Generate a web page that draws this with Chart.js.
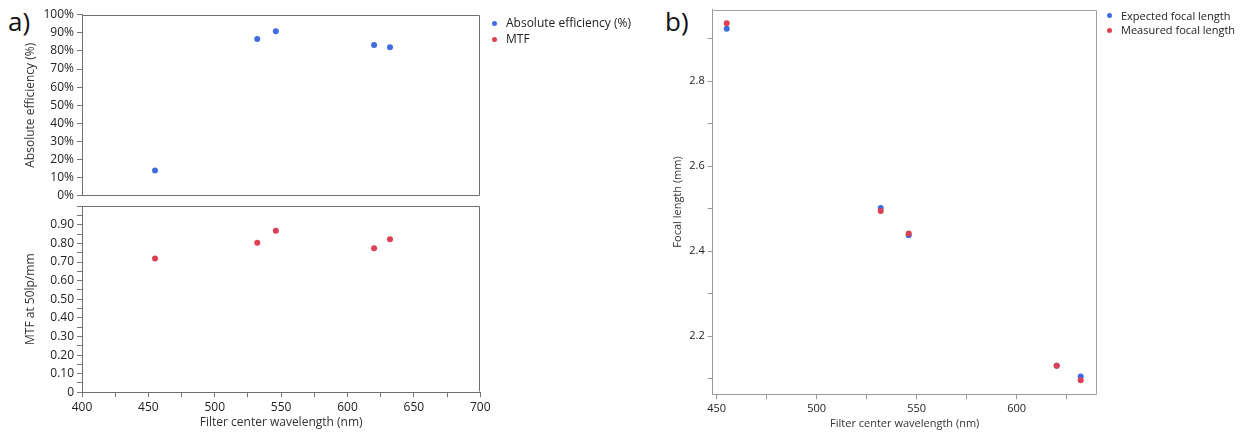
<!DOCTYPE html>
<html>
<head>
<meta charset="utf-8">
<script src="https://cdn.jsdelivr.net/npm/chart.js@4.4.0/dist/chart.umd.min.js"></script>
<style>
  body { margin: 0; background: #fff; width: 1246px; height: 434px; position: relative; overflow: hidden;
         font-family: "Segoe UI", "Open Sans", sans-serif; }
  canvas { position: absolute; }
  .tag { position: absolute; font-size: 26px; line-height: 26px; color: #111; }
  .legend { position: absolute; color: #222; white-space: nowrap; }
  .legend div { position: relative; padding-left: 14px; }
  .dot { position: absolute; left: 0; width: 5px; height: 5px; border-radius: 50%; }
</style>
</head>
<body>
<div class="tag" style="left:8px; top:8px;">a)</div>
<div class="tag" style="left:665px; top:8px;">b)</div>
<canvas id="effChart" width="500" height="206" style="left:0; top:0;"></canvas>
<canvas id="mtfChart" width="500" height="238" style="left:0; top:196px;"></canvas>
<canvas id="focalChart" width="450" height="434" style="left:660px; top:0;"></canvas>
<div class="legend" id="legendA" style="left:492px; top:15px; font-size:12px;"></div>
<div class="legend" id="legendB" style="left:1107px; top:8.6px; font-size:11px;"></div>
<script>
const wavelength = [455, 532, 546, 620, 632];
const absEfficiency = [14.0, 86.6, 90.9, 83.3, 82.0];
const mtf50 = [0.719, 0.804, 0.868, 0.774, 0.822];
const expectedFocal = [2.923, 2.501, 2.437, 2.130, 2.105];
const measuredFocal = [2.936, 2.494, 2.441, 2.130, 2.096];
const legendA = ['Absolute efficiency (%)', 'MTF'];
const legendB = ['Expected focal length', 'Measured focal length'];

const blue = 'rgb(64, 108, 226)';
const red = 'rgb(220, 64, 82)';
const fontFamily = '"Segoe UI", "Open Sans", sans-serif';
Chart.defaults.font.family = fontFamily;

const pts = (xs, ys) => xs.map((x, i) => ({ x: x, y: ys[i] }));

// top/right (and optionally bottom) edges of the plot box, axes draw the rest
const frame = {
  id: 'frame',
  beforeDatasetsDraw(chart, args, opts) {
    const { ctx, chartArea: a } = chart;
    const l = Math.round(a.left) + 0.5, r = Math.round(a.right) - 0.5;
    const t = Math.round(a.top) + 0.5, b = Math.round(a.bottom) - 0.5;
    ctx.save();
    ctx.strokeStyle = opts.color;
    ctx.lineWidth = 1;
    ctx.beginPath();
    ctx.moveTo(l, t); ctx.lineTo(r, t); ctx.lineTo(r, b);
    if (opts.bottom) ctx.lineTo(l, b);
    ctx.stroke();
    ctx.restore();
  }
};

function baseOptions(pad, frameColor, bottom) {
  return {
    responsive: false,
    animation: false,
    devicePixelRatio: 1,
    layout: { padding: pad },
    plugins: { legend: { display: false }, tooltip: { enabled: false }, frame: { color: frameColor, bottom: bottom } },
    elements: { point: { radius: 3, borderWidth: 0 } }
  };
}

function axis(opts) {
  return Object.assign({
    grid: { drawOnChartArea: false, tickLength: 5, color: '#777' },
    border: { color: '#707070' }
  }, opts);
}

// a) top: absolute efficiency
const effOpts = baseOptions({ left: 19, top: 14.7, right: 19.7, bottom: 4.3 }, '#707070', true);
effOpts.scales = {
  x: { display: false, min: 400, max: 700 },
  y: axis({
    min: 0, max: 100,
    afterFit: s => { s.width = 63; },
    ticks: { stepSize: 10, padding: 3, color: '#222', font: { size: 12 }, callback: v => v + '%' },
    title: { display: true, text: 'Absolute efficiency (%)', color: '#333', font: { size: 12 }, padding: { top: 4, bottom: 4 } }
  })
};
new Chart(document.getElementById('effChart'), {
  type: 'scatter',
  data: { datasets: [{ label: legendA[0], data: pts(wavelength, absEfficiency), backgroundColor: blue }] },
  options: effOpts,
  plugins: [frame]
});

// a) bottom: MTF
const mtfOpts = baseOptions({ left: 19, top: 8.3, right: 19.7, bottom: 0 }, '#707070', false);
mtfOpts.scales = {
  x: axis({
    min: 400, max: 700,
    afterFit: s => { s.height = 41.7; },
    ticks: { stepSize: 25, padding: 3, color: '#222', font: { size: 12 }, maxRotation: 0, autoSkip: false,
      callback: v => (v % 50 === 0 ? v : '') },
    title: { display: true, text: 'Filter center wavelength (nm)', color: '#333', font: { size: 12 }, padding: { top: 4, bottom: 4 } }
  }),
  y: axis({
    min: 0, max: 1,
    afterFit: s => { s.width = 63; },
    ticks: { stepSize: 0.05, padding: 3, color: '#222', font: { size: 12 }, autoSkip: false,
      callback: v => {
        const k = Math.round(v * 100);
        if (k % 10 !== 0 || k >= 100) return '';
        return k === 0 ? '0' : (k / 100).toFixed(2);
      } },
    title: { display: true, text: 'MTF at 50lp/mm', color: '#333', font: { size: 12 }, padding: { top: 4, bottom: 4 } }
  })
};
new Chart(document.getElementById('mtfChart'), {
  type: 'scatter',
  data: { datasets: [{ label: legendA[1], data: pts(wavelength, mtf50), backgroundColor: red }] },
  options: mtfOpts,
  plugins: [frame]
});

// b) focal length
const focalOpts = baseOptions({ left: 7.4, top: 8.3, right: 13.3, bottom: 0 }, '#a0a0a0', false);
focalOpts.scales = {
  x: axis({
    min: 448, max: 640,
    afterFit: s => { s.height = 39.7; },
    ticks: { stepSize: 25, includeBounds: false, padding: 3, color: '#222', font: { size: 11 }, maxRotation: 0, autoSkip: false,
      callback: v => (v % 50 === 0 ? v : '') },
    title: { display: true, text: 'Filter center wavelength (nm)', color: '#333', font: { size: 11 }, padding: { top: 4, bottom: 4 } },
    grid: { drawOnChartArea: false, tickLength: 5, color: '#999' },
    border: { color: '#999' }
  }),
  y: axis({
    min: 2.063, max: 2.968,
    afterFit: s => { s.width = 45.3; },
    ticks: { stepSize: 0.1, includeBounds: false, padding: 3, color: '#222', font: { size: 11 }, autoSkip: false,
      callback: v => (Math.round(v * 10) % 2 === 0 ? v.toFixed(1) : '') },
    title: { display: true, text: 'Focal length (mm)', color: '#333', font: { size: 11 }, padding: { top: 4, bottom: 4 } },
    grid: { drawOnChartArea: false, tickLength: 5, color: '#999' },
    border: { color: '#999' }
  })
};
new Chart(document.getElementById('focalChart'), {
  type: 'scatter',
  data: {
    datasets: [
      // measured points sit on top of expected ones
      { label: legendB[0], data: pts(wavelength, expectedFocal), backgroundColor: blue, order: 1 },
      { label: legendB[1], data: pts(wavelength, measuredFocal), backgroundColor: red, order: 0 }
    ]
  },
  options: focalOpts,
  plugins: [frame]
});

function legend(id, names, colors, lineHeight) {
  const el = document.getElementById(id);
  names.forEach((name, i) => {
    const row = document.createElement('div');
    row.style.lineHeight = lineHeight + 'px';
    const dot = document.createElement('span');
    dot.className = 'dot';
    dot.style.background = colors[i];
    dot.style.top = (lineHeight / 2 - 2.5) + 'px';
    row.appendChild(dot);
    row.appendChild(document.createTextNode(name));
    el.appendChild(row);
  });
}
legend('legendA', legendA, [blue, red], 16);
legend('legendB', legendB, [blue, red], 14.7);
</script>
</body>
</html>
